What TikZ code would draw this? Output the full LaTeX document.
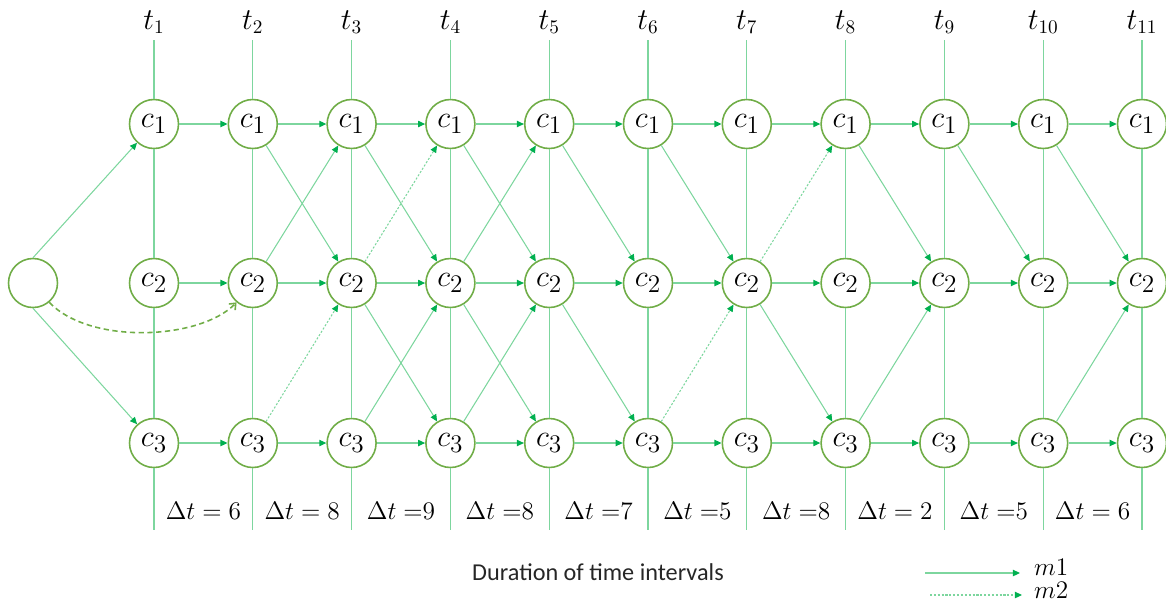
\documentclass[tikz,border=0pt]{standalone}
\usepackage{fontspec}
\newfontfamily\carlito{Carlito}
\usetikzlibrary{arrows.meta}

\definecolor{nodegreen}{RGB}{112,173,71}
\definecolor{linegreen}{RGB}{125,214,158}
\definecolor{tipgreen}{RGB}{0,176,80}

\tikzset{
  state/.style={circle, draw=nodegreen, line width=0.9pt, fill=white,
    minimum size=0.98cm, inner sep=0pt, font=\fontsize{19}{20}\selectfont},
  tline/.style={draw=linegreen, line width=0.6pt},
  solidmove/.style={draw=linegreen, line width=0.6pt,
    -{Triangle[length=4pt,width=3.6pt,color=tipgreen]}},
  dotmove/.style={solidmove, dash pattern=on 1.2pt off 1pt},
  tlabel/.style={font=\fontsize{16}{18}\selectfont},
  dtlabel/.style={font=\fontsize{13.8}{16}\selectfont},
}

\begin{document}
\begin{tikzpicture}[x=0.02cm, y=-0.02cm]
  \useasboundingbox (0,0) rectangle (1166,603);

  % 状態ノード
  \foreach \i in {1,...,11} {
    \pgfmathsetmacro\xx{154+98.8*(\i-1)}
    \node[tlabel] (t\i) at (\xx,22) {$t_{\i}$};
    \coordinate (top\i) at (\xx,40);
    \coordinate (bot\i) at (\xx,530);
    \node[state] (c1-\i) at (\xx,124) {$c_1$};
    \node[state] (c2-\i) at (\xx,283) {$c_2$};
    \node[state] (c3-\i) at (\xx,443) {$c_3$};
    \draw[tline] (top\i) -- (c1-\i) -- (c2-\i) -- (c3-\i) -- (bot\i);
  }
  \node[state] (s) at (33,283) {};

  % 矢印（水平）
  \foreach \i in {1,...,10} {
    \pgfmathtruncatemacro\j{\i+1}
    \foreach \r in {1,2,3}
      \draw[solidmove] (c\r-\i) -- (c\r-\j);
  }

  % 矢印（斜め）
  \foreach \i/\a/\b in {2/1/2, 2/2/1, 3/1/2, 3/2/3, 3/3/2, 4/1/2, 4/2/1,
      4/2/3, 4/3/2, 5/1/2, 5/2/3, 6/1/2, 7/2/3, 8/1/2, 8/3/2, 9/1/2,
      10/1/2, 10/3/2} {
    \pgfmathtruncatemacro\j{\i+1}
    \draw[solidmove] (c\a-\i) -- (c\b-\j);
  }
  \foreach \i/\a/\b in {2/3/2, 3/2/1, 6/3/2, 7/2/1} {
    \pgfmathtruncatemacro\j{\i+1}
    \draw[dotmove] (c\a-\i) -- (c\b-\j);
  }

  % 始点
  \draw[solidmove] (s.north) -- (c1-1);
  \draw[solidmove] (s.south) -- (c3-1);
  \draw[nodegreen, line width=0.9pt, dash pattern=on 3pt off 2pt,
    -{Straight Barb[length=3pt,width=5pt]}]
    (s.-50) .. controls (90,345) and (200,340) .. (c2-2.-130);

  % 時間間隔
  \foreach \i/\txt in {1/{=6}, 2/{=8}, 3/{\;{=}9}, 4/{\;{=}8}, 5/{\;{=}7},
      6/{\;{=}5}, 7/{\;{=}8}, 8/{=2}, 9/{\;{=}5}, 10/{=6}} {
    \pgfmathsetmacro\xx{154+98.8*(\i-0.5)}
    \node[dtlabel] (d\i) at (\xx,511) {$\Delta t\txt$};
  }

  \node[font=\carlito\fontsize{13.8}{16}\selectfont, text=black!85] (cap) at (598,572)
    {Duration of time intervals};

  % 凡例
  \coordinate (leg1a) at (925,573);
  \coordinate (leg1b) at (1020,573);
  \coordinate (leg2a) at (930,595);
  \coordinate (leg2b) at (1022,595);
  \draw[solidmove] (leg1a) -- (leg1b);
  \draw[dotmove] (leg2a) -- (leg2b);
  \node[tlabel, font=\fontsize{14}{16}\selectfont, anchor=west] (m1) at (1028,567) {$m1$};
  \node[tlabel, font=\fontsize{14}{16}\selectfont, anchor=west] (m2) at (1028,590) {$m2$};
\end{tikzpicture}
\end{document}
